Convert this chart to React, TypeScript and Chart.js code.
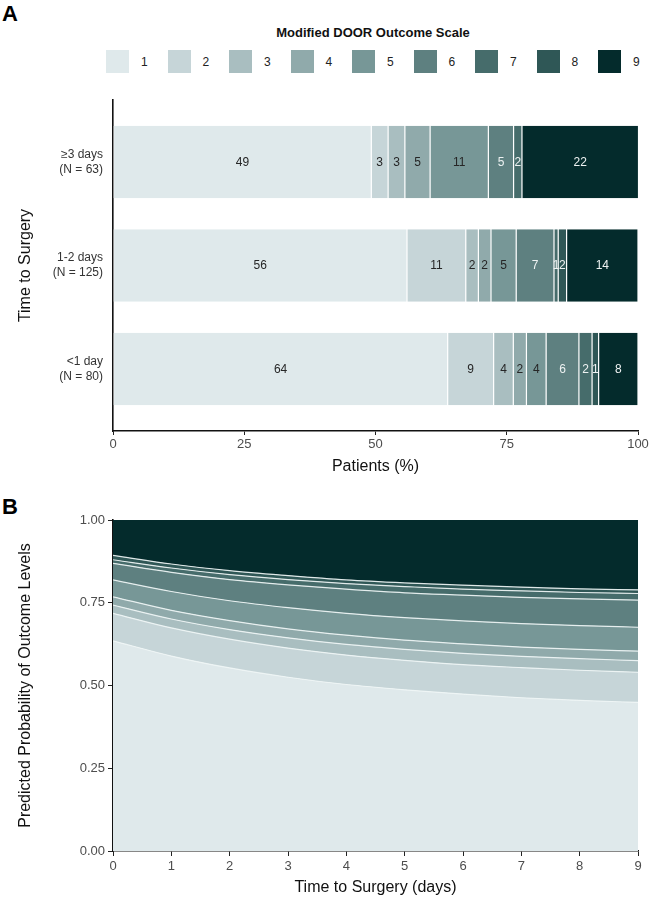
import React, { useEffect, useRef } from 'react';
import { Chart, registerables } from 'chart.js';

Chart.register(...registerables);

const FONT = '"Liberation Sans", Arial, Helvetica, sans-serif';

// ---------- Panel A data ----------
const levels = ['1', '2', '3', '4', '5', '6', '7', '8', '9'];
const levelColors = ['#dfe9eb', '#c6d5d8', '#a9bec0', '#90aaab', '#779797', '#5e8080', '#466c6b', '#2f5756', '#042b2c'];
const groupTicks = [['≥3 days', '(N = 63)'], ['1-2 days', '(N = 125)'], ['<1 day', '(N = 80)']];
const pctGe3 = [49.2, 3.2, 3.2, 4.8, 11.1, 4.8, 1.6, 0, 22.2];
const pct1to2 = [56.0, 11.2, 2.4, 2.4, 4.8, 7.2, 0.8, 1.6, 13.6];
const pctLt1 = [63.75, 8.75, 3.75, 2.5, 3.75, 6.25, 2.5, 1.25, 7.5];
const labGe3 = ['49', '3', '3', '5', '11', '5', '2', '', '22'];
const lab1to2 = ['56', '11', '2', '2', '5', '7', '1', '2', '14'];
const labLt1 = ['64', '9', '4', '2', '4', '6', '2', '1', '8'];
const xTicksA = [0, 25, 50, 75, 100];

// ---------- Panel B data (cumulative upper boundary of each level) ----------
const days = [0, 1, 2, 3, 4, 5, 6, 7, 8, 9];
const cumLevel1 = [0.635, 0.589, 0.553, 0.525, 0.503, 0.487, 0.474, 0.463, 0.455, 0.449];
const cumLevel2 = [0.718, 0.674, 0.640, 0.613, 0.592, 0.576, 0.563, 0.554, 0.546, 0.540];
const cumLevel3 = [0.743, 0.701, 0.669, 0.644, 0.624, 0.609, 0.597, 0.588, 0.581, 0.575];
const cumLevel4 = [0.768, 0.727, 0.696, 0.671, 0.652, 0.637, 0.626, 0.616, 0.609, 0.604];
const cumLevel5 = [0.819, 0.784, 0.756, 0.735, 0.718, 0.705, 0.695, 0.687, 0.681, 0.676];
const cumLevel6 = [0.869, 0.842, 0.820, 0.804, 0.791, 0.780, 0.773, 0.766, 0.762, 0.758];
const cumLevel7 = [0.880, 0.855, 0.835, 0.820, 0.808, 0.799, 0.791, 0.786, 0.781, 0.778];
const cumLevel8 = [0.893, 0.867, 0.847, 0.832, 0.819, 0.810, 0.803, 0.797, 0.792, 0.789];
const cumLevel9 = [1, 1, 1, 1, 1, 1, 1, 1, 1, 1];

const groupsPct = [pctGe3, pct1to2, pctLt1];
const groupsLab = [labGe3, lab1to2, labLt1];
const cumLevels = [cumLevel1, cumLevel2, cumLevel3, cumLevel4, cumLevel5, cumLevel6, cumLevel7, cumLevel8, cumLevel9];

const barLabelPlugin = {
  id: 'barLabels',
  afterDatasetsDraw(chart: any) {
    const ctx = chart.ctx;
    ctx.save();
    ctx.font = `12px ${FONT}`;
    ctx.textAlign = 'center';
    ctx.textBaseline = 'middle';
    chart.data.datasets.forEach((_ds: any, di: number) => {
      const meta = chart.getDatasetMeta(di);
      meta.data.forEach((el: any, gi: number) => {
        const text = groupsLab[gi][di];
        if (!text) return;
        const p = el.getProps(['x', 'base', 'y'], true);
        ctx.fillStyle = di >= 5 ? '#eef2f2' : '#262626';
        ctx.fillText(text, (p.x + p.base) / 2, p.y + 0.5);
      });
    });
    ctx.restore();
  },
};

const noEdgePadding = (s: any) => {
  s.paddingTop = 0;
  s.paddingBottom = 0;
  s.paddingLeft = 0;
  s.paddingRight = 0;
};

function PanelA() {
  const ref = useRef<HTMLCanvasElement>(null);
  useEffect(() => {
    const chart = new Chart(ref.current!, {
      type: 'bar',
      data: {
        datasets: levels.map((lv, li) => ({
          label: lv,
          data: groupsPct.map((g, gi) => ({ x: g[li], y: gi + 1 })),
          backgroundColor: levelColors[li],
          borderColor: '#ffffff',
          borderWidth: { left: 0.6, right: 0.6, top: 0, bottom: 0 },
          borderSkipped: false,
          grouped: false,
          categoryPercentage: 1,
          barPercentage: 0.7,
        })),
      },
      options: {
        indexAxis: 'y',
        animation: false,
        responsive: false,
        layout: { padding: { top: 10, right: 12, left: 0, bottom: 0 } },
        plugins: { legend: { display: false }, tooltip: { enabled: false } },
        scales: {
          x: {
            type: 'linear',
            stacked: true,
            min: 0,
            max: 100,
            afterBuildTicks: (s: any) => { s.ticks = xTicksA.map((v) => ({ value: v })); },
            ticks: { color: '#4d4d4d', font: { size: 13, family: FONT }, padding: 2 },
            grid: { drawOnChartArea: false, drawTicks: true, tickLength: 4, tickColor: '#222', tickWidth: 1 },
            border: { display: true, color: '#111', width: 1.6 },
            title: { display: true, text: 'Patients (%)', color: '#111', font: { size: 16, family: FONT }, padding: { top: 0, bottom: 5 } },
            afterFit: (s: any) => { s.height = 50; noEdgePadding(s); },
          },
          y: {
            type: 'linear',
            offset: false,
            bounds: 'data',
            reverse: true,
            min: 0.4,
            max: 3.6,
            afterBuildTicks: (s: any) => { s.ticks = groupTicks.map((_t, i) => ({ value: i + 1 })); },
            ticks: {
              color: '#333',
              font: { size: 12, family: FONT, lineHeight: 1.25 },
              padding: 10,
              callback: (v: any) => groupTicks[Math.round(v) - 1] || '',
            },
            grid: { display: false, drawTicks: false, offset: false },
            border: { display: true, color: '#111', width: 1.6 },
            title: { display: true, text: 'Time to Surgery', color: '#111', font: { size: 16, family: FONT }, padding: { top: 16, bottom: 0 } },
            afterFit: (s: any) => { s.width = 113; noEdgePadding(s); },
          },
        },
      },
      plugins: [barLabelPlugin],
    } as any);
    return () => chart.destroy();
  }, []);
  return <canvas ref={ref} width={650} height={391} style={{ position: 'absolute', left: 0, top: 90, width: 650, height: 391 }} />;
}

function PanelB() {
  const ref = useRef<HTMLCanvasElement>(null);
  useEffect(() => {
    const chart = new Chart(ref.current!, {
      type: 'line',
      data: {
        datasets: cumLevels.map((arr, i) => ({
          label: levels[i],
          data: days.map((d, j) => ({ x: d, y: arr[j] })),
          backgroundColor: levelColors[i],
          borderColor: i === 8 ? 'rgba(0,0,0,0)' : 'rgba(240,246,246,0.9)',
          borderWidth: i === 8 ? 0 : 1.2,
          fill: i === 0 ? 'origin' : '-1',
          pointRadius: 0,
          cubicInterpolationMode: 'monotone',
        })),
      },
      options: {
        animation: false,
        responsive: false,
        layout: { padding: { top: 30, right: 12, left: 0, bottom: 0 } },
        plugins: { legend: { display: false }, tooltip: { enabled: false }, filler: { drawTime: 'beforeDatasetsDraw' } },
        scales: {
          x: {
            type: 'linear',
            min: 0,
            max: 9,
            ticks: { stepSize: 1, color: '#4d4d4d', font: { size: 13, family: FONT }, padding: 3 },
            grid: { drawOnChartArea: false, drawTicks: true, tickLength: 5, tickColor: '#222', tickWidth: 1 },
            border: { display: true, color: '#111', width: 1.6 },
            title: { display: true, text: 'Time to Surgery (days)', color: '#111', font: { size: 16, family: FONT }, padding: { top: 0, bottom: 4 } },
            afterFit: (s: any) => { s.height = 50; noEdgePadding(s); },
          },
          y: {
            type: 'linear',
            min: 0,
            max: 1,
            ticks: { stepSize: 0.25, color: '#4d4d4d', font: { size: 13, family: FONT }, padding: 3, callback: (v: any) => Number(v).toFixed(2) },
            grid: { drawOnChartArea: false, drawTicks: true, tickLength: 5, tickColor: '#222', tickWidth: 1 },
            border: { display: true, color: '#111', width: 1.6 },
            title: { display: true, text: 'Predicted Probability of Outcome Levels', color: '#111', font: { size: 16, family: FONT }, padding: { top: 16, bottom: 0 } },
            afterFit: (s: any) => { s.width = 113; noEdgePadding(s); },
          },
        },
      },
    } as any);
    return () => chart.destroy();
  }, []);
  return <canvas ref={ref} width={650} height={411} style={{ position: 'absolute', left: 0, top: 490, width: 650, height: 411 }} />;
}

export default function App() {
  return (
    <div style={{ position: 'absolute', left: 0, top: 0, width: 650, height: 901, background: '#fff', fontFamily: FONT, overflow: 'hidden' }}>
      <div style={{ position: 'absolute', left: 2, top: 2, fontSize: 22, fontWeight: 'bold', lineHeight: '24px', color: '#000' }}>A</div>
      <div style={{ position: 'absolute', left: 106, width: 534, top: 25, textAlign: 'center', fontSize: 13, fontWeight: 'bold', lineHeight: '16px', color: '#111' }}>
        Modified DOOR Outcome Scale
      </div>
      <div style={{ position: 'absolute', left: 106, top: 50, display: 'flex' }}>
        {levels.map((lv, i) => (
          <div key={lv} style={{ width: 61.5, display: 'flex', alignItems: 'center' }}>
            <div style={{ width: 23, height: 23, background: levelColors[i] }} />
            <div style={{ marginLeft: 12, fontSize: 12, color: '#222' }}>{lv}</div>
          </div>
        ))}
      </div>
      <PanelA />
      <div style={{ position: 'absolute', left: 2, top: 495, fontSize: 22, fontWeight: 'bold', lineHeight: '24px', color: '#000' }}>B</div>
      <PanelB />
    </div>
  );
}
